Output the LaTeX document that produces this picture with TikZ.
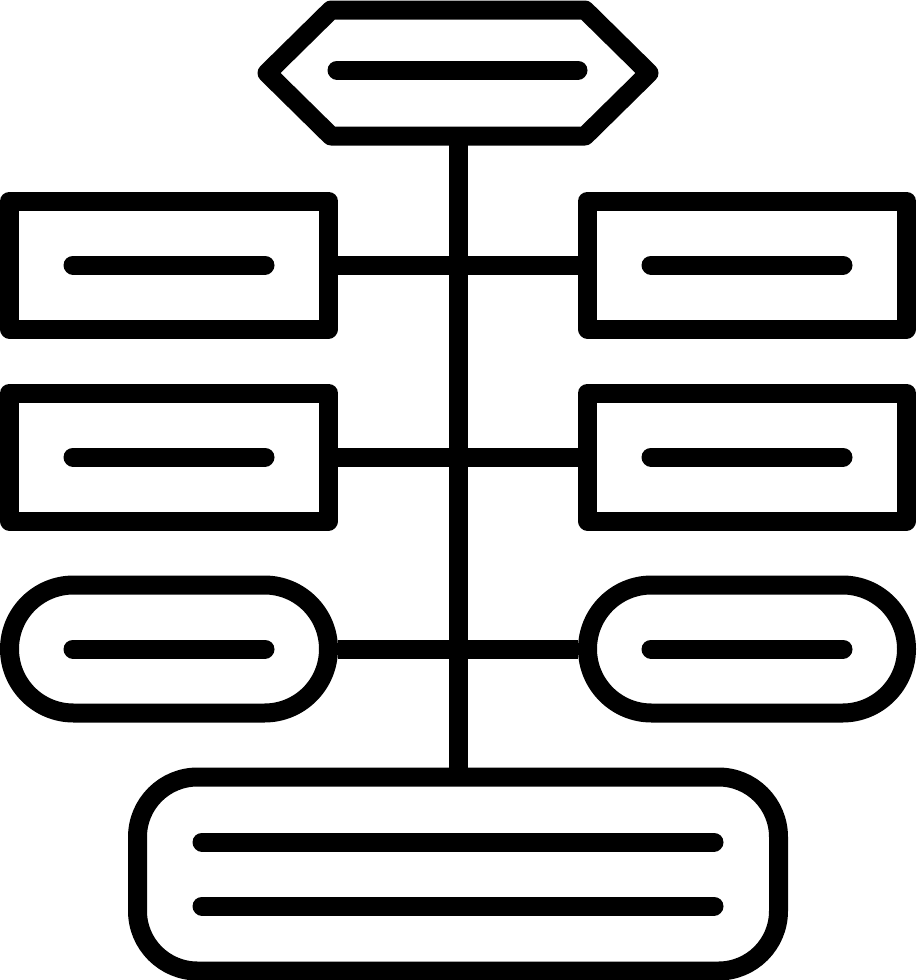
\documentclass[tikz,border=0pt]{standalone}
\begin{document}
\begin{tikzpicture}[x=1pt,y=-1pt,line width=19pt,line join=round,
  box/.style={draw=black,fill=white,inner sep=0pt,minimum width=319pt,minimum height=128pt},
  pill/.style={box,rounded corners=64pt},
  bar/.style={line cap=round}]
\fill[white] (0,0) rectangle (916,980);
\useasboundingbox (0,0) rectangle (916,980);
\coordinate (hexb) at (458,137);
\node[box] (l1) at (169,265) {};
\node[box] (r1) at (747,265) {};
\node[box] (l2) at (169,457) {};
\node[box] (r2) at (747,457) {};
\node[pill] (l3) at (169,649) {};
\node[pill] (r3) at (747,649) {};
\node[draw=black,fill=white,inner sep=0pt,minimum width=641pt,minimum height=194pt,rounded corners=60pt] (bot) at (458,874) {};
\draw (hexb) -- (bot.north);
\draw (l1.east) -- (r1.west);
\draw (l2.east) -- (r2.west);
\draw (l3.east) -- (r3.west);
% hexagon
\draw[fill=white] (267,73) -- (331,10) -- (585,10) -- (649,73) -- (585,136) -- (331,136) -- cycle;
\draw[bar] (337,70) -- (578,70);
% inner bars
\foreach \n in {l1,r1,l2,r2,l3,r3}{
  \draw[bar] ([xshift=-96pt]\n.center) -- ([xshift=96pt]\n.center);
}
\draw[bar] ([xshift=-256pt,yshift=32pt]bot.center) -- ([xshift=256pt,yshift=32pt]bot.center);
\draw[bar] ([xshift=-256pt,yshift=-32pt]bot.center) -- ([xshift=256pt,yshift=-32pt]bot.center);
\end{tikzpicture}
\end{document}
